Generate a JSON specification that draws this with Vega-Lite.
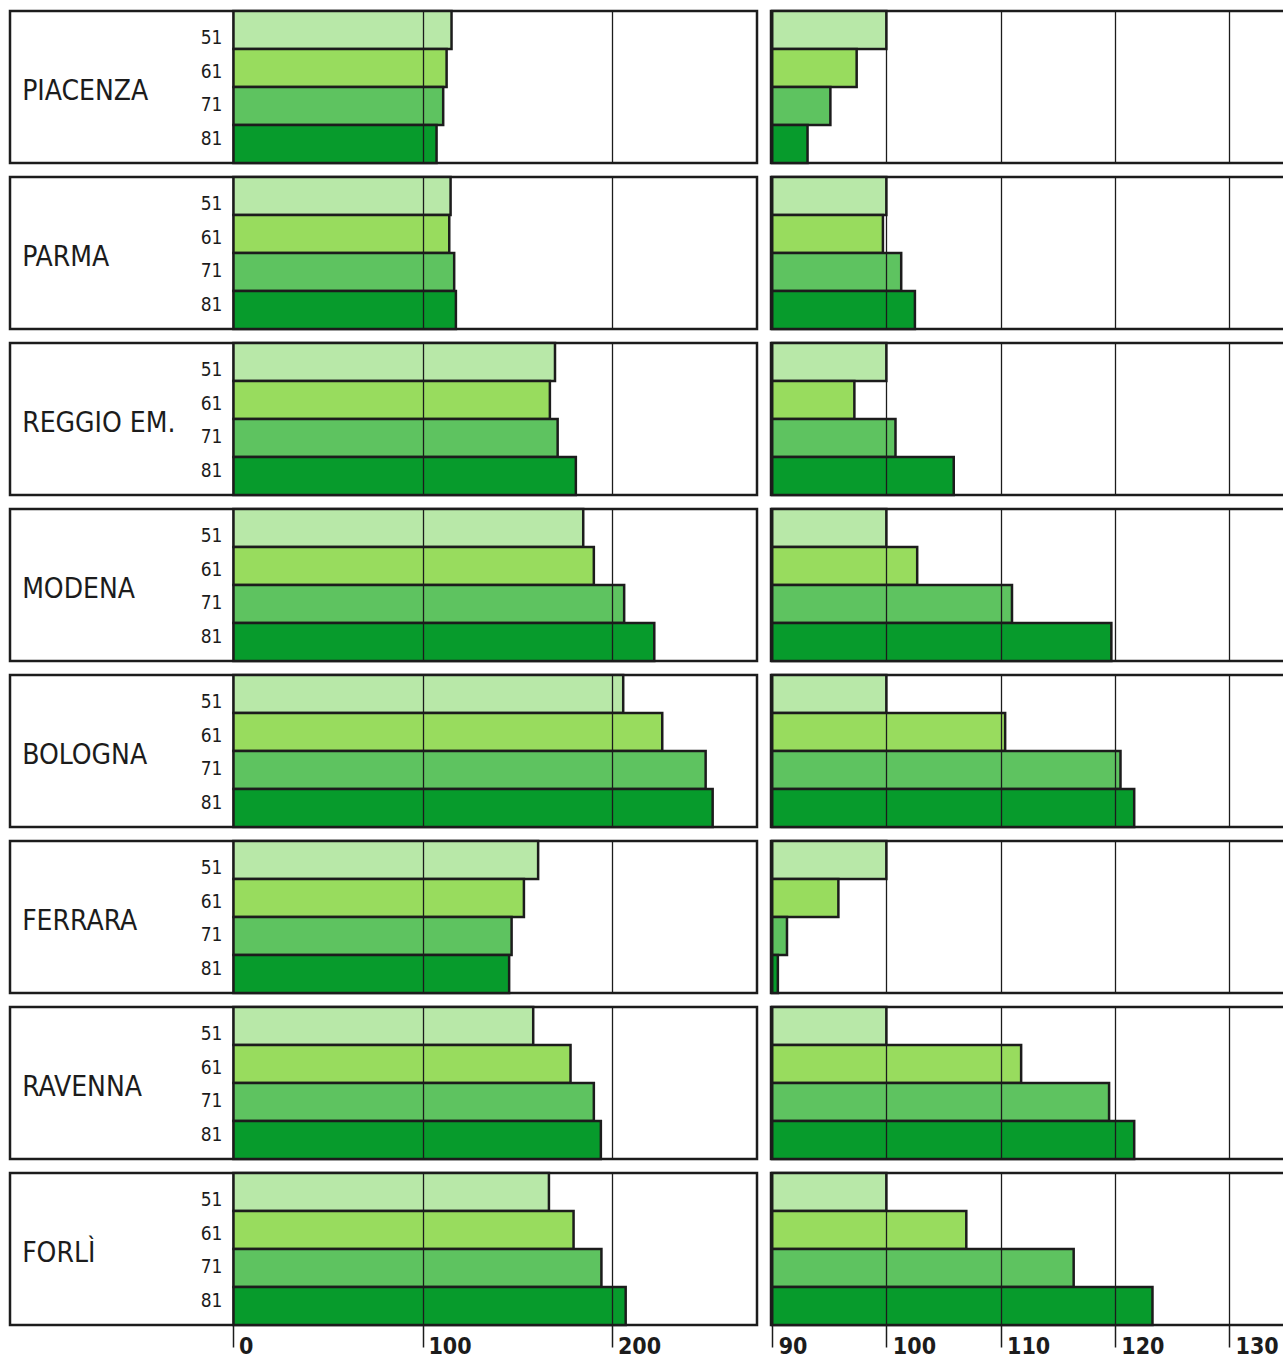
{
  "$schema": "https://vega.github.io/schema/vega-lite/v6.json",
  "background": "white",
  "padding": {"left": 8, "top": 8, "right": 0, "bottom": 0},
  "spacing": 10,
  "config": {
    "font": "Noto Sans ExtraCondensed, Noto Sans Condensed, DejaVu Sans Condensed, sans-serif",
    "view": {"stroke": "#1c1c1c", "strokeWidth": 2.5},
    "facet": {"spacing": 14},
    "concat": {"spacing": 10}
  },
  "data": {
    "values": [
      {"province": "PIACENZA", "year": "51", "density": 115.1, "index": 100},
      {"province": "PIACENZA", "year": "61", "density": 112.5, "index": 97.4},
      {"province": "PIACENZA", "year": "71", "density": 110.7, "index": 95.1},
      {"province": "PIACENZA", "year": "81", "density": 107.2, "index": 93.1},
      {"province": "PARMA", "year": "51", "density": 114.6, "index": 100},
      {"province": "PARMA", "year": "61", "density": 113.9, "index": 99.7},
      {"province": "PARMA", "year": "71", "density": 116.5, "index": 101.3},
      {"province": "PARMA", "year": "81", "density": 117.4, "index": 102.5},
      {"province": "REGGIO EM.", "year": "51", "density": 169.7, "index": 100},
      {"province": "REGGIO EM.", "year": "61", "density": 167.0, "index": 97.2},
      {"province": "REGGIO EM.", "year": "71", "density": 171.1, "index": 100.8},
      {"province": "REGGIO EM.", "year": "81", "density": 180.7, "index": 105.9},
      {"province": "MODENA", "year": "51", "density": 184.6, "index": 100},
      {"province": "MODENA", "year": "61", "density": 190.2, "index": 102.7},
      {"province": "MODENA", "year": "71", "density": 206.2, "index": 111.0},
      {"province": "MODENA", "year": "81", "density": 222.1, "index": 119.7},
      {"province": "BOLOGNA", "year": "51", "density": 205.7, "index": 100},
      {"province": "BOLOGNA", "year": "61", "density": 226.3, "index": 110.4},
      {"province": "BOLOGNA", "year": "71", "density": 249.2, "index": 120.5},
      {"province": "BOLOGNA", "year": "81", "density": 252.9, "index": 121.7},
      {"province": "FERRARA", "year": "51", "density": 160.8, "index": 100},
      {"province": "FERRARA", "year": "61", "density": 153.3, "index": 95.8},
      {"province": "FERRARA", "year": "71", "density": 146.8, "index": 91.3},
      {"province": "FERRARA", "year": "81", "density": 145.5, "index": 90.5},
      {"province": "RAVENNA", "year": "51", "density": 158.2, "index": 100},
      {"province": "RAVENNA", "year": "61", "density": 177.9, "index": 111.8},
      {"province": "RAVENNA", "year": "71", "density": 190.2, "index": 119.5},
      {"province": "RAVENNA", "year": "81", "density": 193.9, "index": 121.7},
      {"province": "FORLÌ", "year": "51", "density": 166.5, "index": 100},
      {"province": "FORLÌ", "year": "61", "density": 179.5, "index": 107.0},
      {"province": "FORLÌ", "year": "71", "density": 194.2, "index": 116.4},
      {"province": "FORLÌ", "year": "81", "density": 207.0, "index": 123.3}
    ]
  },
  "hconcat": [
    {
      "facet": {
        "row": {
          "field": "province", "type": "nominal", "title": null,
          "sort": ["PIACENZA", "PARMA", "REGGIO EM.", "MODENA", "BOLOGNA", "FERRARA", "RAVENNA", "FORLÌ"],
          "header": {"labels": false, "title": null}
        }
      },
      "spacing": {"row": 14},
      "bounds": "flush",
      "spec": {
        "width": 747,
        "height": 152,
        "layer": [
          {
            "mark": {"type": "bar", "stroke": "#1c1c1c", "strokeWidth": 2.5},
            "encoding": {
              "y": {
                "field": "year", "type": "nominal", "sort": ["51", "61", "71", "81"],
                "scale": {"paddingInner": 0, "paddingOuter": 0},
                "axis": {
                  "title": null, "orient": "left", "offset": -222, "domain": false, "ticks": false,
                  "labelPadding": 10, "labelFontSize": 19, "labelColor": "#1c1c1c",
                  "labelAlign": "right", "labelBaseline": "middle", "grid": false, "zindex": 1,
                  "labelOffset": {"expr": "datum.value == '51' ? 8 : datum.value == '61' ? 3.5 : datum.value == '71' ? -1 : -5"}
                }
              },
              "x": {
                "field": "density", "type": "quantitative",
                "scale": {"domain": [-117.9, 276.3], "nice": false, "zero": false},
                "axis": {
                  "title": null, "values": [0, 100, 200], "grid": true, "gridColor": "#1c1c1c", "gridWidth": 1.3,
                  "domain": false, "ticks": true, "tickSize": 22, "tickColor": "#1c1c1c", "tickWidth": 1.5,
                  "labelAlign": "left", "labelBaseline": "top", "labelPadding": -12, "labelOffset": 5,
                  "labelFontSize": 23, "labelFontWeight": "bold", "labelColor": "#1c1c1c",
                  "labelFlush": false, "labelOverlap": false, "zindex": 1
                }
              },
              "x2": {"datum": 0},
              "color": {
                "field": "year", "type": "nominal", "legend": null,
                "scale": {"domain": ["51", "61", "71", "81"], "range": ["#b8e8a8", "#98dc5e", "#5ec360", "#079b2c"]}
              }
            }
          },
          {
            "transform": [{"filter": "datum.year == '51'"}],
            "mark": {"type": "text", "align": "left", "baseline": "middle", "fontSize": 28, "dy": 5, "color": "#1c1c1c"},
            "encoding": {
              "x": {"datum": -111.5},
              "text": {"field": "province", "type": "nominal"}
            }
          }
        ]
      }
    },
    {
      "facet": {
        "row": {
          "field": "province", "type": "nominal", "title": null,
          "sort": ["PIACENZA", "PARMA", "REGGIO EM.", "MODENA", "BOLOGNA", "FERRARA", "RAVENNA", "FORLÌ"],
          "header": {"labels": false, "title": null}
        }
      },
      "spacing": {"row": 14},
      "bounds": "flush",
      "spec": {
        "width": 515,
        "height": 152,
        "mark": {"type": "bar", "stroke": "#1c1c1c", "strokeWidth": 2.5},
        "encoding": {
          "y": {
            "field": "year", "type": "nominal", "sort": ["51", "61", "71", "81"],
            "scale": {"paddingInner": 0, "paddingOuter": 0},
            "axis": null
          },
          "x": {
            "field": "index", "type": "quantitative",
            "scale": {"domain": [89.9, 134.99], "nice": false, "zero": false},
            "axis": {
              "title": null, "values": [90, 100, 110, 120, 130], "grid": true, "gridColor": "#1c1c1c", "gridWidth": 1.3,
              "domain": false, "ticks": true, "tickSize": 22, "tickColor": "#1c1c1c", "tickWidth": 1.5,
              "labelAlign": "left", "labelBaseline": "top", "labelPadding": -12, "labelOffset": 6,
              "labelFontSize": 23, "labelFontWeight": "bold", "labelColor": "#1c1c1c",
              "labelFlush": false, "labelOverlap": false, "zindex": 1
            }
          },
          "x2": {"datum": 90},
          "color": {
            "field": "year", "type": "nominal", "legend": null,
            "scale": {"domain": ["51", "61", "71", "81"], "range": ["#b8e8a8", "#98dc5e", "#5ec360", "#079b2c"]}
          }
        }
      }
    }
  ]
}
